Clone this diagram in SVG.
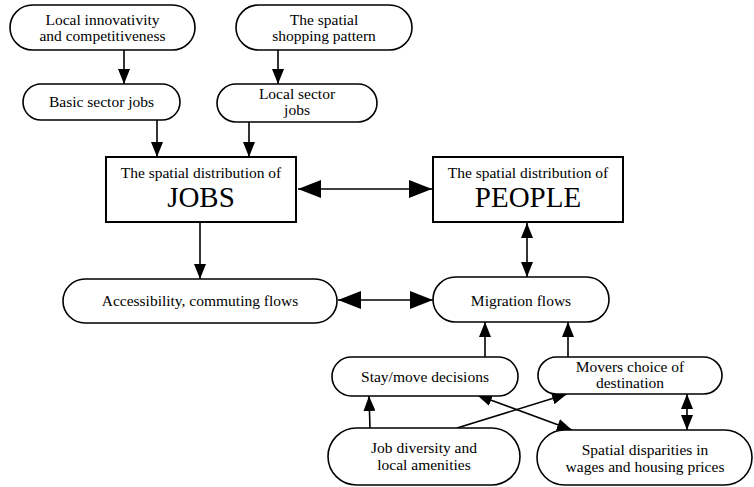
<svg xmlns="http://www.w3.org/2000/svg" width="754" height="487" viewBox="0 0 754 487">
  <defs>
    <style>
      .node { fill: #fff; stroke: #000; stroke-width: 1.6; }
      .box { fill: #fff; stroke: #000; stroke-width: 2; }
      .lbl { font-family: "Liberation Serif", "Times New Roman", serif; font-size: 15.5px; fill: #000; text-anchor: middle; }
      .big { font-family: "Liberation Serif", "Times New Roman", serif; font-size: 29px; fill: #000; text-anchor: middle; }
      .edge { fill: none; stroke: #000; stroke-width: 1.6; }
      .small-head { marker-end: url(#sh); }
      .small-both { marker-start: url(#sh); marker-end: url(#sh); }
      .large-both { marker-start: url(#lh); marker-end: url(#lh); }
    </style>
    <marker id="sh" viewBox="0 0 15 12" refX="15" refY="6" markerWidth="15" markerHeight="12" orient="auto-start-reverse" markerUnits="userSpaceOnUse">
      <path d="M0,0 L15,6 L0,12 z" fill="#000"/>
    </marker>
    <marker id="lh" viewBox="0 0 23 18" refX="23" refY="9" markerWidth="23" markerHeight="18" orient="auto-start-reverse" markerUnits="userSpaceOnUse">
      <path d="M0,0 L23,9 L0,18 z" fill="#000"/>
    </marker>
  </defs>

  <rect width="754" height="487" fill="#fff"/>

  <!-- connectors -->
  <g id="connectors">
    <line class="edge small-head" x1="124" y1="50" x2="124" y2="84"/>
    <line class="edge small-head" x1="278" y1="50" x2="278" y2="84"/>
    <line class="edge small-head" x1="157" y1="120" x2="157" y2="157"/>
    <line class="edge small-head" x1="249" y1="122" x2="249" y2="157"/>
    <line class="edge large-both" x1="298" y1="189" x2="432" y2="189"/>
    <line class="edge small-head" x1="200" y1="223" x2="200" y2="279"/>
    <line class="edge small-both" x1="527" y1="223" x2="527" y2="277"/>
    <line class="edge large-both" x1="338" y1="300" x2="433" y2="300"/>
    <line class="edge small-head" x1="485" y1="357" x2="485" y2="322"/>
    <line class="edge small-head" x1="568" y1="357" x2="568" y2="322"/>
    <line class="edge small-head" x1="370" y1="428" x2="369" y2="396"/>
    <line class="edge small-head" x1="457" y1="428" x2="567" y2="394"/>
    <line class="edge small-both" x1="477" y1="395" x2="572" y2="430"/>
    <line class="edge small-both" x1="687" y1="394" x2="687" y2="430"/>
  </g>

  <g id="innovativity">
    <rect class="node" x="10" y="5" width="185" height="45" rx="22.5"/>
    <text class="lbl" x="102.5" y="25">Local innovativity</text>
    <text class="lbl" x="102.5" y="41">and competitiveness</text>
  </g>

  <g id="shopping">
    <rect class="node" x="236" y="5" width="176" height="45" rx="22.5"/>
    <text class="lbl" x="324" y="25">The spatial</text>
    <text class="lbl" x="324" y="41">shopping pattern</text>
  </g>

  <g id="basic-jobs">
    <rect class="node" x="23" y="84" width="157" height="36" rx="18"/>
    <text class="lbl" x="101.5" y="107">Basic sector jobs</text>
  </g>

  <g id="local-jobs">
    <rect class="node" x="217" y="84" width="160" height="38" rx="19"/>
    <text class="lbl" x="297" y="99">Local sector</text>
    <text class="lbl" x="297" y="115">jobs</text>
  </g>

  <g id="jobs">
    <rect class="box" x="106" y="157" width="190" height="65"/>
    <text class="lbl" x="201" y="178">The spatial distribution of</text>
    <text class="big" x="201" y="207">JOBS</text>
  </g>

  <g id="people">
    <rect class="box" x="433" y="157" width="190" height="65"/>
    <text class="lbl" x="528" y="178">The spatial distribution of</text>
    <text class="big" x="528" y="207">PEOPLE</text>
  </g>

  <g id="accessibility">
    <rect class="node" x="63" y="279" width="274" height="44" rx="22"/>
    <text class="lbl" x="200" y="306">Accessibility, commuting flows</text>
  </g>

  <g id="migration">
    <rect class="node" x="433" y="277" width="176" height="45" rx="22.5"/>
    <text class="lbl" x="521" y="306">Migration flows</text>
  </g>

  <g id="stay-move">
    <rect class="node" x="332" y="357" width="186" height="39" rx="19.5"/>
    <text class="lbl" x="425" y="382">Stay/move decisions</text>
  </g>

  <g id="movers">
    <rect class="node" x="538" y="357" width="184" height="37" rx="18.5"/>
    <text class="lbl" x="630" y="372">Movers choice of</text>
    <text class="lbl" x="630" y="388">destination</text>
  </g>

  <g id="job-diversity">
    <rect class="node" x="328" y="428" width="192" height="57" rx="28.5"/>
    <text class="lbl" x="424" y="453">Job diversity and</text>
    <text class="lbl" x="424" y="470">local amenities</text>
  </g>

  <g id="disparities">
    <rect class="node" x="537" y="430" width="215" height="55" rx="27.5"/>
    <text class="lbl" x="645" y="455">Spatial disparities in</text>
    <text class="lbl" x="645" y="472">wages and housing prices</text>
  </g>
</svg>
